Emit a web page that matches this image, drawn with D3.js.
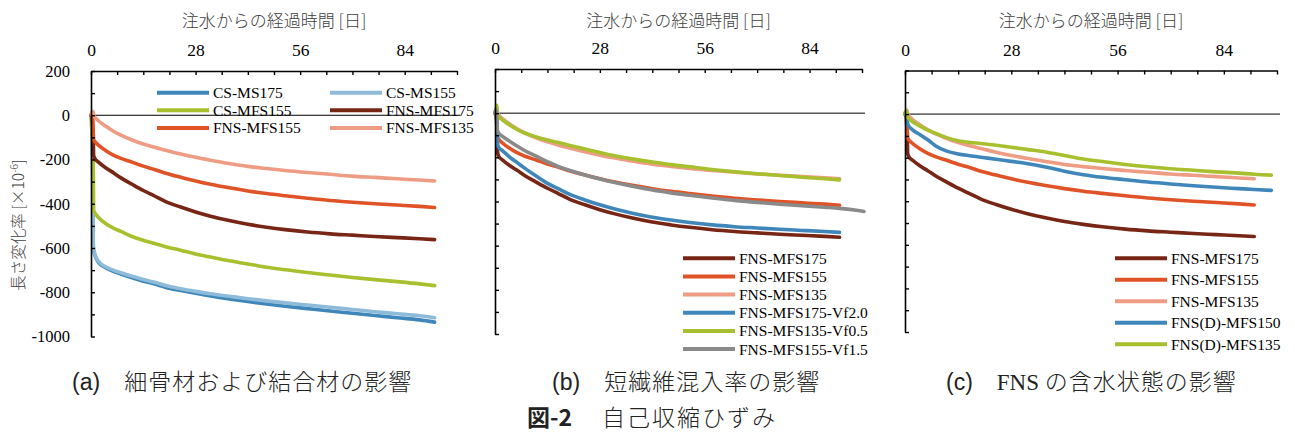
<!DOCTYPE html>
<html>
<head>
<meta charset="utf-8">
<script src="https://cdn.jsdelivr.net/npm/d3@7"></script>
<style>
  body { margin: 0; background: #fff; }
</style>
</head>
<body>
<svg id="chart" width="1295" height="434"></svg>
<script>
// elapsed days after water injection
const days = [0, 0.3, 0.5, 0.6, 0.7, 1, 2, 4, 6, 8, 11, 14, 17, 20, 24, 28, 32, 37, 42, 47, 52, 58, 64, 70, 76, 82, 88, 92, 96.5, 98.5];

// length change [x10^-6]
const csMS175 = [0, -20, -400, -590, -610, -630, -665, -690, -705, -718, -735, -750, -763, -778, -792, -805, -817, -830, -842, -853, -863, -874, -885, -895, -905, -915, -925, -935, null, null];
const csMS155 = [0, -10, -300, -580, -600, -625, -660, -686, -700, -712, -728, -742, -755, -770, -784, -796, -807, -818, -829, -839, -848, -858, -868, -878, -888, -897, -906, -915, null, null];
const csMFS155 = [0, -100, -150, -190, -430, -440, -462, -490, -510, -525, -548, -565, -580, -594, -610, -627, -641, -658, -672, -687, -698, -711, -722, -733, -743, -752, -762, -770, null, null];
const fnsMFS175 = [0, -10, -60, -80, -180, -195, -212, -238, -260, -283, -312, -340, -365, -390, -415, -437, -456, -476, -493, -506, -517, -528, -536, -542, -548, -553, -558, -562, null, null];
const fnsMFS155 = [0, 5, -30, -90, -110, -118, -135, -160, -180, -195, -212, -230, -245, -262, -280, -297, -312, -328, -342, -354, -364, -375, -385, -393, -400, -406, -412, -417, null, null];
const fnsMFS135 = [5, 15, 18, 10, 0, -8, -25, -50, -72, -90, -112, -130, -145, -158, -175, -190, -203, -218, -231, -241, -250, -259, -267, -275, -281, -287, -293, -297, null, null];
const fnsMFS175Vf20 = [0, 10, -40, -120, -145, -155, -170, -200, -225, -250, -285, -318, -343, -368, -393, -415, -434, -454, -471, -484, -495, -506, -514, -520, -526, -531, -536, -540, null, null];
const fnsMFS135Vf05 = [0, 20, 36, 10, -5, -15, -30, -55, -75, -90, -108, -122, -133, -146, -162, -178, -193, -208, -221, -233, -243, -255, -265, -274, -282, -290, -297, -302, null, null];
const fnsMFS155Vf15 = [0, 15, -40, -70, -80, -90, -105, -128, -150, -170, -195, -220, -242, -260, -280, -298, -314, -332, -348, -361, -372, -384, -395, -404, -412, -419, -426, -431, -440, -445];
const fnsDMFS150 = [0, 10, -10, -30, -45, -55, -72, -95, -118, -145, -170, -183, -191, -198, -207, -217, -227, -243, -262, -278, -290, -301, -312, -321, -329, -336, -342, -346, -350, null];
const fnsDMFS135 = [0, 15, 5, -5, -12, -20, -35, -55, -74, -88, -108, -122, -130, -135, -143, -152, -162, -174, -190, -206, -218, -231, -242, -251, -258, -265, -271, -276, -280, null];

const dayTicks = d3.range(0, 99, 7);
const dayLabels = [0, 28, 56, 84];
const strainTicks = d3.range(-1000, 201, 100);
const strainLabels = [200, 0, -200, -400, -600, -800, -1000];

const blue = "#3f87ba", lightBlue = "#8dbbd9", green = "#a8bf2e",
      brown = "#772616", red = "#e05327", salmon = "#ee9d84", gray = "#8a8a8a";

const serif = "'Liberation Serif', 'Times New Roman', serif";
const jpFont = "'Noto Sans CJK JP', sans-serif";
const sans = "'Liberation Sans', Arial, sans-serif";

const panels = [
  {
    left: 91, right: 457, top: 71, bottom: 336.5, yLabels: true,
    series: [
      ["CS-MS175", csMS175, blue], ["CS-MS155", csMS155, lightBlue],
      ["CS-MFS155", csMFS155, green], ["FNS-MFS175", fnsMFS175, brown],
      ["FNS-MFS155", fnsMFS155, red], ["FNS-MFS135", fnsMFS135, salmon]
    ],
    legend: { x: 157, y: 92.7, cols: 2, colW: 173, rowH: 17.6 },
    caption: { x: 72, tag: "(a)", text: "細骨材および結合材の影響" }
  },
  {
    left: 495, right: 862, top: 69, bottom: 334, yLabels: false,
    series: [
      ["FNS-MFS175", fnsMFS175, brown], ["FNS-MFS155", fnsMFS155, red],
      ["FNS-MFS135", fnsMFS135, salmon], ["FNS-MFS175-Vf2.0", fnsMFS175Vf20, blue],
      ["FNS-MFS135-Vf0.5", fnsMFS135Vf05, green], ["FNS-MFS155-Vf1.5", fnsMFS155Vf15, gray]
    ],
    legend: { x: 683, y: 258.3, cols: 1, colW: 0, rowH: 18.15 },
    caption: { x: 552, tag: "(b)", text: "短繊維混入率の影響" }
  },
  {
    left: 905, right: 1277, top: 70.5, bottom: 332, yLabels: false,
    series: [
      ["FNS-MFS175", fnsMFS175, brown], ["FNS-MFS155", fnsMFS155, red],
      ["FNS-MFS135", fnsMFS135, salmon], ["FNS(D)-MFS150", fnsDMFS150, blue],
      ["FNS(D)-MFS135", fnsDMFS135, green]
    ],
    legend: { x: 1115, y: 258.3, cols: 1, colW: 0, rowH: 21.5 },
    caption: { x: 946, tag: "(c)", text: "の含水状態の影響", pre: "FNS" }
  }
];

const svg = d3.select("#chart");

panels.forEach(p => {
  const x = d3.scaleLinear().domain([0, 98]).range([p.left, p.right]);
  const y = d3.scaleLinear().domain([-1000, 200]).range([p.bottom, p.top]);
  const g = svg.append("g");

  // zero line
  g.append("line")
    .attr("x1", x(0)).attr("x2", x(98) + 3)
    .attr("y1", y(0)).attr("y2", y(0))
    .attr("stroke", "#000").attr("stroke-width", 1);

  // series
  const line = d3.line()
    .defined(d => d[1] != null)
    .x(d => x(d[0]))
    .y(d => y(d[1]))
    .curve(d3.curveMonotoneX);

  p.series.forEach(([name, vals, color]) => {
    g.append("path")
      .datum(days.map((d, i) => [d, vals[i]]))
      .attr("fill", "none")
      .attr("stroke", color)
      .attr("stroke-width", 3.6)
      .attr("stroke-linejoin", "round")
      .attr("stroke-linecap", "round")
      .attr("d", line);
  });

  // top axis (ticks inward)
  const xAxis = g.append("g")
    .attr("transform", `translate(0,${p.top})`)
    .call(d3.axisTop(x).tickValues(dayTicks).tickSizeInner(-4).tickSizeOuter(0).tickFormat(""));
  xAxis.select(".domain").attr("stroke", "#000").attr("stroke-width", 1.6);
  xAxis.selectAll(".tick line").attr("stroke", "#000").attr("stroke-width", 1.4);

  const xLab = g.append("g")
    .attr("transform", `translate(0,${p.top})`)
    .call(d3.axisTop(x).tickValues(dayLabels).tickSize(0).tickPadding(15).tickFormat(d => String(d)));
  xLab.select(".domain").remove();
  xLab.selectAll("text")
    .attr("font-family", serif).attr("font-size", 17.5).attr("fill", "#000");

  // left axis (ticks inward)
  const yAxis = g.append("g")
    .attr("transform", `translate(${p.left},0)`)
    .call(d3.axisLeft(y).tickValues(strainTicks).tickSizeInner(-4).tickSizeOuter(0).tickFormat(""));
  yAxis.select(".domain").attr("stroke", "#000").attr("stroke-width", 1.6);
  yAxis.selectAll(".tick line").attr("stroke", "#000").attr("stroke-width", 1.4);

  if (p.yLabels) {
    const yLab = g.append("g")
      .attr("transform", `translate(${p.left},0)`)
      .call(d3.axisLeft(y).tickValues(strainLabels).tickSize(0).tickPadding(21).tickFormat(d => String(d)));
    yLab.select(".domain").remove();
    yLab.selectAll("text")
      .attr("font-family", serif).attr("font-size", 16.5).attr("fill", "#000");
  }

  // axis title
  g.append("text")
    .attr("font-family", jpFont)
    .attr("font-weight", 300)
    .attr("x", (p.left + p.right) / 2)
    .attr("y", 27)
    .attr("text-anchor", "middle")
    .attr("font-size", 17)
    .attr("fill", "#404040")
    .text("注水からの経過時間 [日]");

  // legend
  const L = p.legend;
  p.series.forEach(([name, vals, color], i) => {
    const col = i % L.cols, row = Math.floor(i / L.cols);
    const lx = L.x + col * L.colW, ly = L.y + row * L.rowH;
    g.append("line")
      .attr("x1", lx).attr("x2", lx + 52)
      .attr("y1", ly).attr("y2", ly)
      .attr("stroke", color).attr("stroke-width", 4);
    g.append("text")
      .attr("font-family", serif)
      .attr("x", lx + 56).attr("y", ly + 5.5)
      .attr("font-size", 15.5).attr("fill", "#000")
      .text(name);
  });

  // caption
  const c = g.append("text")
    .attr("x", p.caption.x).attr("y", 390)
    .attr("font-size", 23).attr("fill", "#222");
  c.append("tspan")
    .attr("font-family", sans)
    .text(p.caption.tag);
  if (p.caption.pre) {
    c.append("tspan")
      .attr("font-family", serif)
      .attr("dx", 24)
      .text(p.caption.pre + " ");
  }
  c.append("tspan")
    .attr("font-family", jpFont)
    .attr("font-weight", 300)
    .attr("dx", p.caption.pre ? 0 : 24)
    .attr("letter-spacing", 1)
    .text(p.caption.text);
});

// y-axis title
svg.append("text")
  .attr("font-family", jpFont)
  .attr("font-weight", 300)
  .attr("transform", "translate(24,225) rotate(-90)")
  .attr("text-anchor", "middle")
  .attr("font-size", 15.5)
  .attr("fill", "#404040")
  .call(t => {
    t.append("tspan").text("長さ変化率 [×10");
    t.append("tspan").attr("dy", -6).attr("font-size", 10).text("-6");
    t.append("tspan").attr("dy", 6).text("]");
  });

// figure title
const ft = svg.append("text")
  .attr("x", 527).attr("y", 426)
  .attr("font-size", 23).attr("fill", "#222");
ft.append("tspan").attr("font-family", jpFont).attr("font-weight", 700).text("図-2");
ft.append("tspan").attr("font-family", jpFont).attr("font-weight", 300)
  .attr("dx", 30).attr("letter-spacing", 2).text("自己収縮ひずみ");
</script>
</body>
</html>
